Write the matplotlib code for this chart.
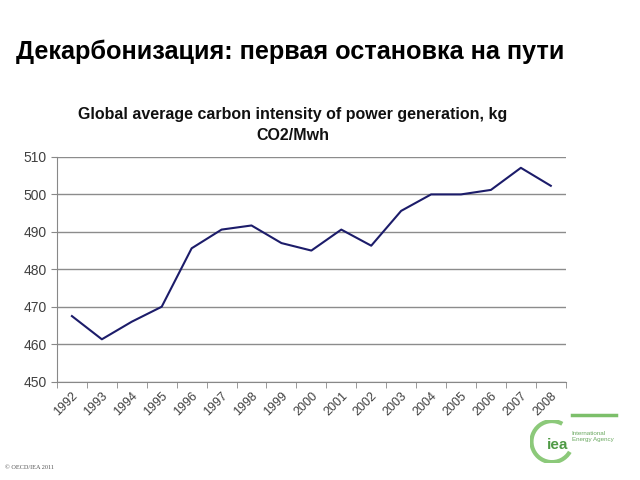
import matplotlib
matplotlib.use("Agg")
import matplotlib.pyplot as plt
from matplotlib.patches import Arc

# data
years = ["1992", "1993", "1994", "1995", "1996", "1997", "1998", "1999", "2000",
         "2001", "2002", "2003", "2004", "2005", "2006", "2007", "2008"]
intensity = [467.5, 461.3, 466.0, 470.0, 485.6, 490.6, 491.7, 487.0, 485.0,
             490.6, 486.3, 495.6, 500.0, 500.0, 501.2, 507.1, 502.3]
y_ticks = [450, 460, 470, 480, 490, 500, 510]

page_title = "Декарбонизация: первая остановка на пути"
chart_title = "Global average carbon intensity of power generation, kg\nCO2/Mwh"

plt.rcParams['font.family'] = ['Liberation Sans', 'DejaVu Sans']

fig = plt.figure(figsize=(6.4, 4.8), dpi=100)
fig.text(0.025, 0.892, page_title, fontsize=18.2, fontweight='bold', va='center', ha='left')

ax = fig.add_axes([0.089, 0.205, 0.795, 0.468])
x = list(range(len(years)))
ax.plot(x, intensity, color='#1c1c6a', linewidth=1.5)

ax.set_ylim(450, 510)
ax.set_yticks(y_ticks)
ax.set_xlim(-0.5, len(years) - 0.5)
ax.set_xticks(x)
ax.set_xticklabels(years, rotation=45, ha='right', rotation_mode='anchor', fontsize=9, color='#404040')
ax.tick_params(axis='x', length=0, pad=6)
ax.set_xticks([i - 0.5 for i in range(len(years) + 1)], minor=True)
ax.tick_params(axis='x', which='minor', length=4, color='#888888')
ax.tick_params(axis='y', length=4, color='#888888', labelsize=10, labelcolor='#404040')
ax.yaxis.grid(True, color='#8c8c8c', linewidth=1)
ax.set_axisbelow(True)
for side in ['top', 'right']:
    ax.spines[side].set_visible(False)
ax.spines['left'].set_color('#888888')
ax.spines['bottom'].set_color('#888888')
fig.text(0.458, 0.74, chart_title, fontsize=11.5, fontweight='bold', color='#111111',
         ha='center', va='center', linespacing=1.45)

# IEA logo and copyright
fig.lines.append(plt.Line2D([0.893, 0.962], [0.135, 0.135], transform=fig.transFigure,
                            color='#7cbf6a', linewidth=2.5))
logo = fig.add_axes([0.825, 0.035, 0.075, 0.09])
logo.set_xlim(0, 1)
logo.set_ylim(0, 1)
logo.set_aspect('equal')
logo.axis('off')
logo.add_patch(Arc((0.5, 0.5), 0.95, 0.95, theta1=60, theta2=330, color='#8cc97a', linewidth=3))
logo.text(0.62, 0.42, "iea", fontsize=11, fontweight='bold', color='#4f9a45', ha='center', va='center')
fig.text(0.893, 0.09, "International\nEnergy Agency", fontsize=4.5, color='#6aa860', va='center', linespacing=1.3)
fig.text(0.008, 0.022, "© OECD/IEA 2011", fontsize=4.5, color='#555555', family='Liberation Serif')

fig.savefig("out.png", dpi=100)
